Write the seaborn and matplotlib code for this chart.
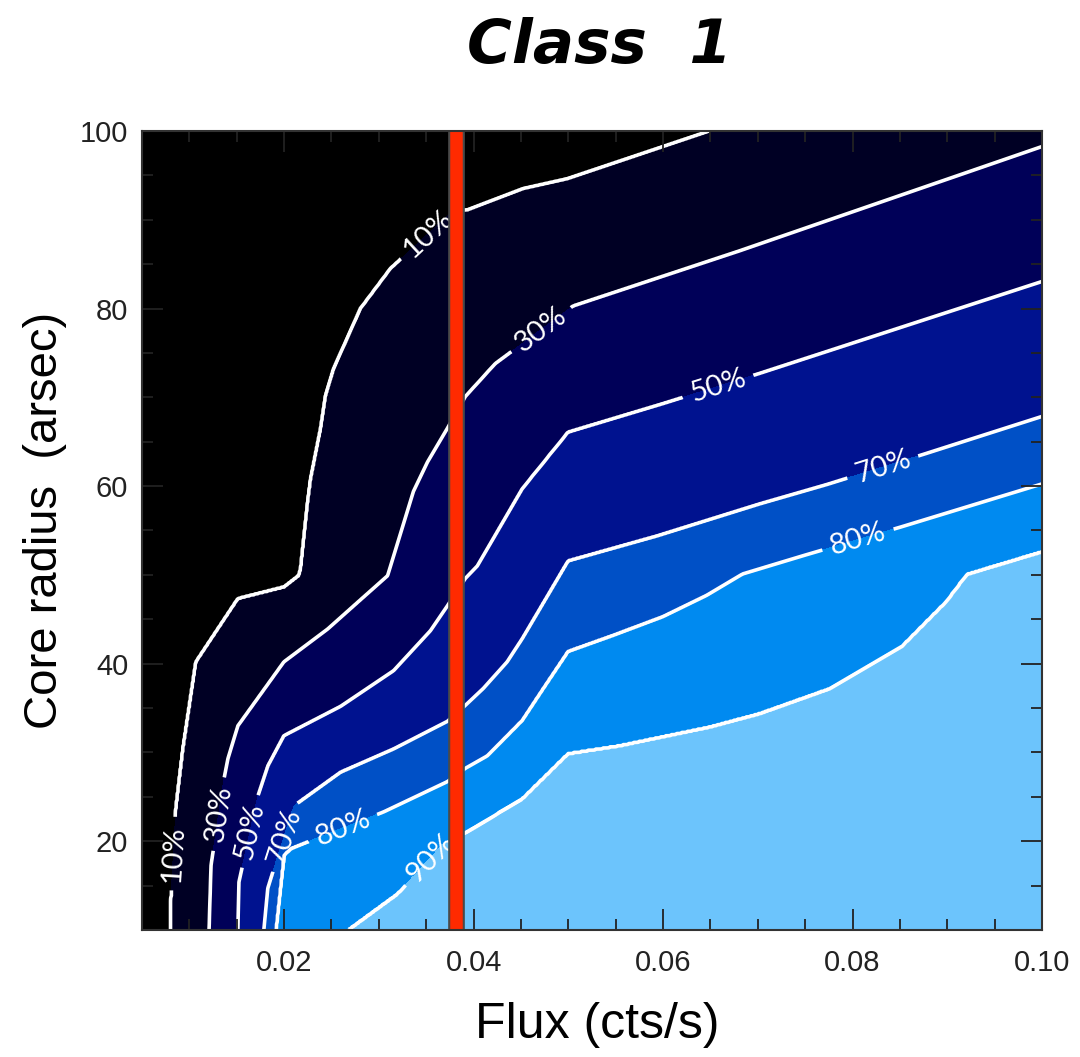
import numpy as np
import matplotlib
matplotlib.use("Agg")
import matplotlib.pyplot as plt
import seaborn as sns

# ---------------- data ----------------
LEVELS = [10, 30, 50, 70, 80, 90]

FLUX_10 = [0.00807, 0.00807, 0.00860, 0.00934, 0.01071, 0.01512, 0.01997, 0.02155, 0.02176,
           0.02250, 0.02281, 0.02387, 0.02439, 0.02523, 0.02807, 0.03123, 0.03776, 0.03934,
           0.04523, 0.04986, 0.06492]
RADIUS_10 = [10.0, 13.2, 23.7, 30.4, 40.2, 47.3, 48.6, 49.9, 50.7,
             58.2, 60.8, 66.5, 70.2, 73.2, 80.0, 84.5, 90.9, 91.1,
             93.5, 94.6, 100.0]

FLUX_30 = [0.01208, 0.01229, 0.01365, 0.01407, 0.01512, 0.01997, 0.02460, 0.03092,
           0.03365, 0.03513, 0.03723, 0.03913, 0.04228, 0.05050, 0.06807, 0.09987]
RADIUS_30 = [10.0, 17.3, 27.0, 29.3, 33.0, 40.2, 43.9, 49.9,
             59.4, 62.7, 66.5, 70.1, 73.8, 80.3, 86.5, 98.2]

FLUX_50 = [0.01512, 0.01523, 0.01723, 0.01828, 0.01997, 0.02597, 0.03155, 0.03544,
           0.03723, 0.03913, 0.04039, 0.04512, 0.04997, 0.05997, 0.07018, 0.09987]
RADIUS_50 = [10.0, 15.4, 25.1, 28.5, 31.9, 35.2, 39.2, 43.7,
             46.5, 49.6, 51.0, 59.7, 66.1, 69.3, 72.7, 83.0]

FLUX_70 = [0.01786, 0.01828, 0.02102, 0.02597, 0.03155, 0.03723, 0.03913, 0.04102,
           0.04354, 0.04512, 0.04997, 0.05934, 0.07018, 0.07734, 0.08755, 0.09987]
RADIUS_70 = [10.0, 14.7, 24.0, 27.8, 30.4, 33.5, 35.3, 37.2,
             40.2, 42.8, 51.6, 54.4, 58.0, 60.2, 63.6, 67.8]

FLUX_80 = [0.01913, 0.01997, 0.02071, 0.03050, 0.03723, 0.03913, 0.04144, 0.04512,
           0.04734, 0.04997, 0.05471, 0.05997, 0.06460, 0.06839, 0.07492, 0.08513, 0.09987]
RADIUS_80 = [10.0, 18.4, 19.2, 23.3, 26.7, 28.2, 29.6, 33.6,
             37.2, 41.4, 43.2, 45.3, 47.7, 50.1, 52.2, 55.4, 60.2]

FLUX_90 = [0.02671, 0.03197, 0.03702, 0.03934, 0.04512, 0.04997, 0.05544, 0.06039,
           0.06492, 0.07018, 0.07755, 0.08523, 0.08987, 0.09208, 0.09987]
RADIUS_90 = [10.0, 14.1, 20.0, 21.1, 24.8, 29.9, 30.8, 31.9,
             32.9, 34.4, 37.2, 42.0, 47.0, 50.1, 52.6]

THRESHOLD_FLUX = 0.0381

X_TICKS = [0.02, 0.04, 0.06, 0.08, 0.10]
X_TICK_LABELS = ["0.02", "0.04", "0.06", "0.08", "0.10"]
Y_TICKS = [20, 40, 60, 80, 100]
Y_TICK_LABELS = ["20", "40", "60", "80", "100"]

# label anchor points (flux, radius) along the contours
LABEL_FLUX = [0.0347, 0.0086, 0.0467, 0.0128, 0.0657, 0.0160, 0.0831, 0.0188, 0.0804, 0.0260, 0.0349]
LABEL_RADIUS = [89.0, 18.6, 78.3, 23.1, 71.5, 21.2, 62.5, 20.9, 54.6, 21.8, 18.6]

# ---------------- styling ----------------
sns.set_theme(style="ticks")
plt.rcParams['font.family'] = ['Liberation Sans', 'DejaVu Sans']
plt.rcParams['text.color'] = 'black'
plt.rcParams['axes.labelcolor'] = 'black'

FILL_COLORS = ["#000000", "#000024", "#000058", "#00128f", "#0050c6", "#008af0", "#6cc4fc"]

# ---------------- build field from the contour lines ----------------
contour_data = [(FLUX_10, RADIUS_10), (FLUX_30, RADIUS_30), (FLUX_50, RADIUS_50),
                (FLUX_70, RADIUS_70), (FLUX_80, RADIUS_80), (FLUX_90, RADIUS_90)]

xgrid = np.linspace(0.005, 0.10, 951)
ygrid = np.linspace(10.0, 100.0, 721)


def flux_at(y, rad, flux):
    rad = np.asarray(rad, float)
    flux = np.asarray(flux, float)
    x = np.interp(y, rad, flux)
    hi = y > rad[-1]
    s_hi = (flux[-1] - flux[-2]) / (rad[-1] - rad[-2])
    x[hi] = flux[-1] + (y[hi] - rad[-1]) * s_hi
    lo = y < rad[0]
    s_lo = (flux[1] - flux[0]) / (rad[1] - rad[0])
    x[lo] = flux[0] + (y[lo] - rad[0]) * s_lo
    return x


XL = np.array([flux_at(ygrid, r, f) for f, r in contour_data])
for i in range(1, XL.shape[0]):
    XL[i] = np.maximum(XL[i], XL[i - 1] + 1e-6)

Z = np.empty((ygrid.size, xgrid.size))
zvals = [0] + LEVELS + [100]
for j in range(ygrid.size):
    xp = np.concatenate([[XL[0, j] - 0.05], XL[:, j], [XL[-1, j] + 0.5]])
    Z[j] = np.interp(xgrid, xp, zvals)

X, Y = np.meshgrid(xgrid, ygrid)

# ---------------- figure ----------------
fig = plt.figure(figsize=(10.8, 10.57), dpi=100)
ax = fig.add_axes([0.1315, 0.1202, 0.8333, 0.7559])
ax.set_axisbelow(False)

ax.contourf(X, Y, Z, levels=[0] + LEVELS + [100], colors=FILL_COLORS, antialiased=False)
cs = ax.contour(X, Y, Z, levels=LEVELS, colors="white", linewidths=2.6)
labels = ax.clabel(cs, fmt="%d%%", fontsize=21, colors="white", inline=True, inline_spacing=8,
                   manual=list(zip(LABEL_FLUX, LABEL_RADIUS)))
for t in labels:
    t.set_fontfamily(['Lato', 'DejaVu Sans'])
    t.set_fontweight('normal')
    t.set_color('white')
    t.set_alpha(1.0)

# threshold bar
ax.axvline(THRESHOLD_FLUX, color="#4a4a4a", lw=12.0, zorder=5)
ax.axvline(THRESHOLD_FLUX, color="#ff2a00", lw=9.0, zorder=6)

ax.set_xlim(0.005, 0.10)
ax.set_ylim(10, 100)
ax.set_xticks(X_TICKS)
ax.set_xticklabels(X_TICK_LABELS)
ax.set_yticks(Y_TICKS)
ax.set_yticklabels(Y_TICK_LABELS)
ax.set_xticks(np.arange(0.01, 0.10, 0.005), minor=True)
ax.set_yticks(np.arange(15, 100, 5), minor=True)
ax.tick_params(which="both", direction="in", top=True, right=True, color="#222222", width=1.3)
ax.tick_params(which="major", length=15)
ax.tick_params(which="minor", length=8)
ax.tick_params(axis="x", which="major", pad=14)
ax.tick_params(axis="y", which="major", pad=10)
for lab in ax.get_xticklabels() + ax.get_yticklabels():
    lab.set_fontfamily(['Liberation Sans Narrow', 'Liberation Sans', 'DejaVu Sans'])
    lab.set_fontsize(21)
    lab.set_color("#222222")
for sp in ax.spines.values():
    sp.set_color("#333333")
    sp.set_linewidth(1.5)
    sp.set_zorder(10)

ax.set_xlabel("Flux (cts/s)", fontsize=36, color="black",
              family=['Liberation Sans Narrow', 'Liberation Sans', 'DejaVu Sans'])
ax.xaxis.set_label_coords(0.506, -0.119)
ax.xaxis.label.set_verticalalignment("center")
ax.set_ylabel("Core radius  (arsec)", fontsize=34, color="black")
ax.yaxis.set_label_coords(-0.108, 0.513)
ax.yaxis.label.set_verticalalignment("center")

fig.text(0.555, 0.956, "Class  1", ha="center", va="center", fontsize=44, color="black",
         fontweight="bold", fontstyle="italic", family=['DejaVu Sans'])

fig.savefig("out.png", dpi=100, facecolor="white")
